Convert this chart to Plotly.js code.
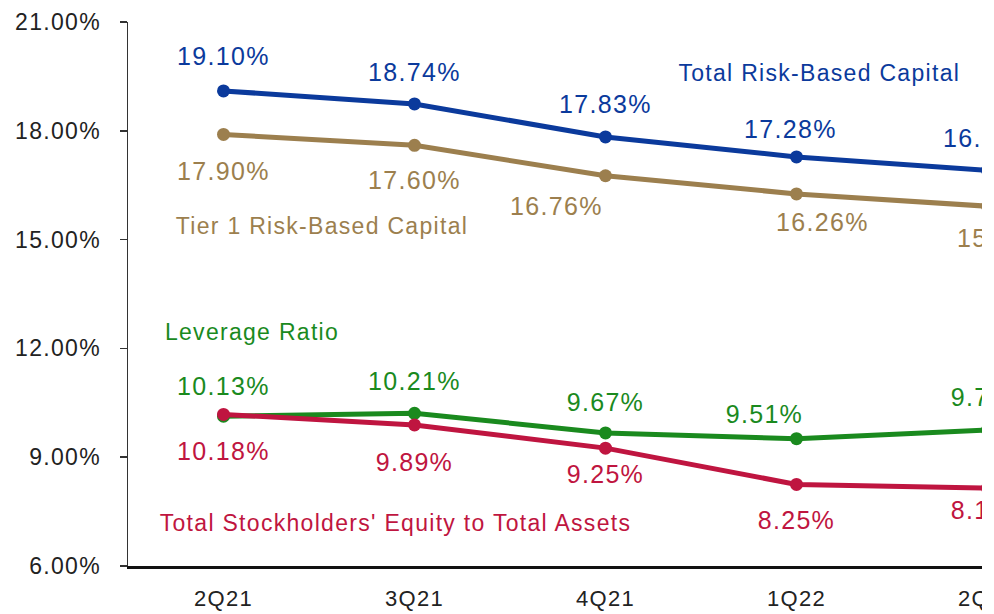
<!DOCTYPE html>
<html>
<head>
<meta charset="utf-8">
<script src="https://cdn.plot.ly/plotly-3.0.1.min.js"></script>
<style>
  html, body { margin: 0; padding: 0; background: #fff; }
  #clip { width: 982px; height: 614px; overflow: hidden; }
  #chart text { letter-spacing: 1.3px; }
</style>
</head>
<body>
<div id="clip"><div id="chart"></div></div>
<script>
// ---- data ----
var quarters = ["2Q21", "3Q21", "4Q21", "1Q22", "2Q22"];
var totalRiskBased = [19.10, 18.74, 17.83, 17.28, 16.91];
var tier1RiskBased = [17.90, 17.60, 16.76, 16.26, 15.92];
var leverageRatio = [10.13, 10.21, 9.67, 9.51, 9.75];
var equityToAssets = [10.18, 9.89, 9.25, 8.25, 8.15];
var yTickValues = [6, 9, 12, 15, 18, 21];
var yTickLabels = ["6.00%", "9.00%", "12.00%", "15.00%", "18.00%", "21.00%"];

// ---- styling (label nudges in pixels: [dx, dy]) ----
var series = [
  { name: "Total Risk-Based Capital", y: totalRiskBased, color: "#0B3A9C",
    nudge: [[0, 35], [0, 32], [0, 33], [-6, 28], [2, 32]],
    nameX: 3.12, nameY: 19.59 },
  { name: "Tier 1 Risk-Based Capital", y: tier1RiskBased, color: "#9C7F4E",
    nudge: [[0, -37], [0, -35], [-49, -30], [26, -28], [16, -32]],
    nameX: 0.518, nameY: 15.38 },
  { name: "Leverage Ratio", y: leverageRatio, color: "#1A8A1E",
    nudge: [[0, 30], [0, 32], [0, 31], [-32, 25], [2, 33]],
    nameX: 0.147, nameY: 12.45 },
  { name: "Total Stockholders' Equity to Total Assets", y: equityToAssets, color: "#BF1540",
    nudge: [[0, -37], [0, -37], [0, -26], [0, -36], [2, -22]],
    nameX: 0.901, nameY: 7.19 }
];

var fontFam = "'Liberation Sans', Arial, sans-serif";
var traces = [];
var annotations = [];
series.forEach(function (s) {
  traces.push({
    type: "scatter", mode: "lines+markers",
    x: quarters, y: s.y, name: s.name,
    line: { color: s.color, width: 5 },
    marker: { color: s.color, size: 13 },
    hoverinfo: "skip"
  });
  s.y.forEach(function (v, i) {
    annotations.push({
      x: quarters[i], y: v, xref: "x", yref: "y",
      text: v.toFixed(2) + "%", showarrow: false,
      xshift: s.nudge[i][0], yshift: s.nudge[i][1],
      font: { family: fontFam, size: 25, color: s.color }
    });
  });
  annotations.push({
    x: s.nameX, y: s.nameY, xref: "x", yref: "y",
    text: s.name, showarrow: false,
    font: { family: fontFam, size: 23, color: s.color }
  });
});

var layout = {
  width: 1100, height: 614,
  margin: { l: 128, r: 17, t: 22, b: 48 },
  paper_bgcolor: "#ffffff", plot_bgcolor: "#ffffff",
  showlegend: false,
  xaxis: {
    type: "category", range: [-0.5, 4.5],
    showgrid: false, zeroline: false,
    showline: true, linecolor: "#111", linewidth: 3,
    ticks: "", ticklabelstandoff: 11,
    tickfont: { family: fontFam, size: 22, color: "#222" }
  },
  yaxis: {
    range: [6, 21], tickmode: "array",
    tickvals: yTickValues, ticktext: yTickLabels,
    showgrid: false, zeroline: false,
    showline: true, linecolor: "#333", linewidth: 1.5,
    ticks: "outside", ticklen: 7, tickcolor: "#333", tickwidth: 1.5,
    ticklabelstandoff: 14,
    tickfont: { family: fontFam, size: 23, color: "#222" }
  },
  annotations: annotations
};

Plotly.newPlot("chart", traces, layout, { displayModeBar: false, staticPlot: true });
</script>
</body>
</html>
